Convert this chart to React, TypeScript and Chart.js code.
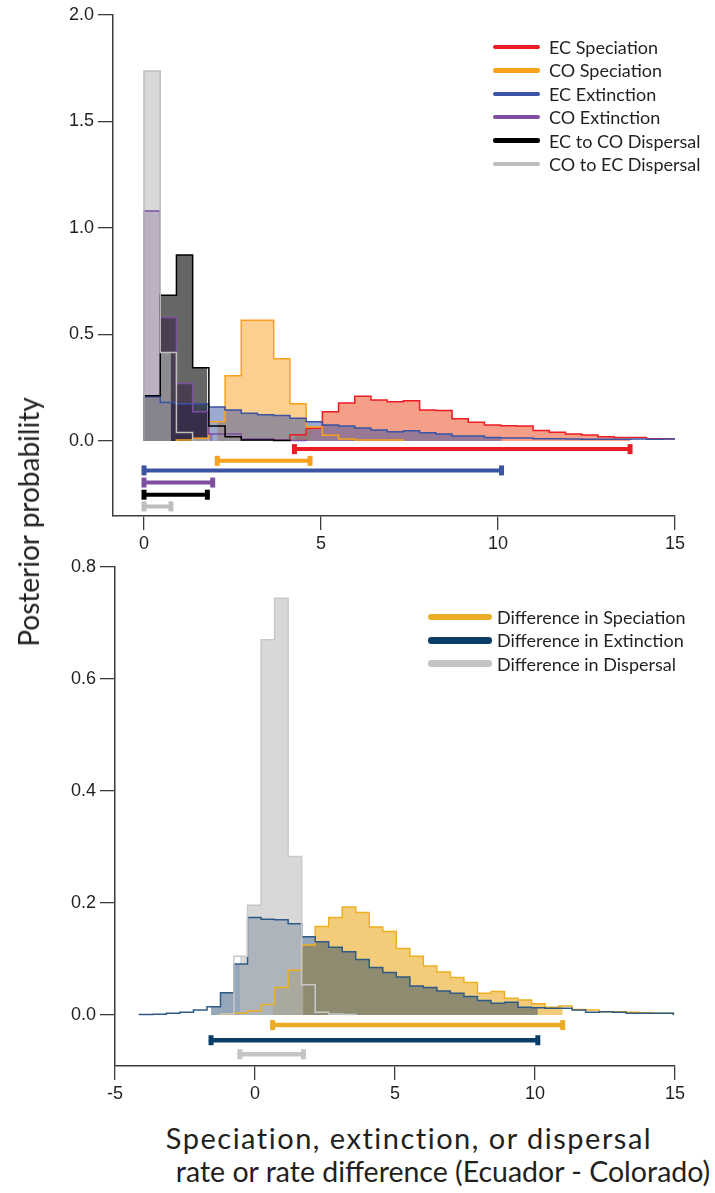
import React, { useEffect, useRef } from "react";
import { Chart, registerables } from "chart.js";

Chart.register(...registerables);

// ---------------- DATA: top panel (rates) ----------------
const TOP_BIN_START = 0;
const TOP_BIN_WIDTH = 0.458;
const TOP_X_END = 15.05;
const TOP_X_TICKS = [0, 5, 10, 15];
const TOP_Y_TICKS = [0, 0.5, 1.0, 1.5, 2.0];

const EC_SPECIATION = [0, 0, 0, 0, 0, 0, 0, 0, 0.004, 0.03, 0.06, 0.138, 0.179, 0.21, 0.193, 0.184, 0.189, 0.146, 0.143, 0.104, 0.088, 0.075, 0.072, 0.07, 0.049, 0.041, 0.033, 0.028, 0.02, 0.017, 0.016, 0.011, 0.011];
const CO_SPECIATION = [0, 0, 0.005, 0.013, 0.09, 0.307, 0.567, 0.567, 0.386, 0.175, 0.066, 0.027, 0.01, 0.005, 0.005, 0.005];
const EC_EXTINCTION = [0.208, 0.181, 0.175, 0.175, 0.16, 0.146, 0.13, 0.123, 0.12, 0.107, 0.09, 0.075, 0.071, 0.061, 0.052, 0.044, 0.048, 0.039, 0.033, 0.024, 0.024, 0.017, 0.014, 0.014, 0.011, 0.011, 0.01, 0.008, 0.008, 0.008, 0.009, 0.008, 0.009];
const CO_EXTINCTION = [1.08, 0.58, 0.27, 0.137, 0.033, 0.033, 0.01, 0.01, 0.005, 0.003];
const EC_TO_CO_DISPERSAL = [0.212, 0.684, 0.873, 0.344, 0.071, 0.02, 0.005, 0.005, 0.003];
const CO_TO_EC_DISPERSAL = [1.737, 0.415, 0.04, 0.005];

const EC_SPECIATION_HPD = [4.25, 13.73];
const CO_SPECIATION_HPD = [2.07, 4.69];
const EC_EXTINCTION_HPD = [0, 10.1];
const CO_EXTINCTION_HPD = [0, 1.94];
const EC_TO_CO_DISPERSAL_HPD = [0, 1.79];
const CO_TO_EC_DISPERSAL_HPD = [0, 0.76];

// ---------------- DATA: bottom panel (differences) ----------------
const BOTTOM_BIN_START = -4.13;
const BOTTOM_BIN_WIDTH = 0.483;
const BOTTOM_X_END = 14.94;
const BOTTOM_X_TICKS = [-5, 0, 5, 10, 15];
const BOTTOM_Y_TICKS = [0, 0.2, 0.4, 0.6, 0.8];

const DIFF_SPECIATION = [0, 0, 0, 0, 0, 0, 0.002, 0.003, 0.007, 0.019, 0.049, 0.08, 0.125, 0.158, 0.174, 0.193, 0.183, 0.157, 0.149, 0.119, 0.105, 0.0875, 0.077, 0.067, 0.058, 0.039, 0.042, 0.03, 0.027, 0.02, 0.014, 0.016, 0.01, 0.009, 0.006, 0.006, 0.005, 0.004, 0.003, 0.003];
const DIFF_EXTINCTION = [0.001, 0.0015, 0.003, 0.005, 0.009, 0.015, 0.04, 0.091, 0.174, 0.171, 0.17, 0.163, 0.14, 0.131, 0.121, 0.113, 0.099, 0.085, 0.076, 0.068, 0.052, 0.049, 0.043, 0.039, 0.033, 0.026, 0.021, 0.023, 0.014, 0.013, 0.012, 0.012, 0.009, 0.005, 0.006, 0.005, 0.003, 0.003, 0.003, 0.003];
const DIFF_DISPERSAL = [0, 0, 0, 0, 0, 0, 0.002, 0.105, 0.196, 0.67, 0.744, 0.283, 0.054, 0.005, 0.002, 0.001];

const DIFF_SPECIATION_HPD = [0.63, 10.99];
const DIFF_EXTINCTION_HPD = [-1.57, 10.1];
const DIFF_DISPERSAL_HPD = [-0.54, 1.73];

// ---------------- styles ----------------
const TICK_FONT = { family: "'Liberation Sans', Arial, sans-serif", size: 18 };
const TEXT_COLOR = "#231f20";
const AXIS_COLOR = "#3c3c3c";
const LABEL_FONT = "Lato, 'Open Sans', sans-serif";

type Series = {
  label: string;
  values: number[];
  hpd: number[];
  line: string;
  fill: string;
  barRow: number;
  lineWidth: number;
  barWidth: number;
};

// drawn bottom -> top
const TOP_SERIES: Series[] = [
  { label: "EC Speciation", values: EC_SPECIATION, hpd: EC_SPECIATION_HPD, line: "#ED1C24", fill: "rgba(236,80,40,0.55)", barRow: -0.038, lineWidth: 1.5, barWidth: 4 },
  { label: "CO Speciation", values: CO_SPECIATION, hpd: CO_SPECIATION_HPD, line: "#F9A11B", fill: "rgba(250,160,30,0.5)", barRow: -0.093, lineWidth: 1.5, barWidth: 4 },
  { label: "EC Extinction", values: EC_EXTINCTION, hpd: EC_EXTINCTION_HPD, line: "#3A53A4", fill: "rgba(58,83,164,0.5)", barRow: -0.138, lineWidth: 1.5, barWidth: 4 },
  { label: "CO Extinction", values: CO_EXTINCTION, hpd: CO_EXTINCTION_HPD, line: "#7E4FA1", fill: "rgba(126,79,161,0.55)", barRow: -0.195, lineWidth: 1.5, barWidth: 4 },
  { label: "EC to CO Dispersal", values: EC_TO_CO_DISPERSAL, hpd: EC_TO_CO_DISPERSAL_HPD, line: "#000000", fill: "rgba(0,0,0,0.6)", barRow: -0.252, lineWidth: 1.5, barWidth: 4 },
  { label: "CO to EC Dispersal", values: CO_TO_EC_DISPERSAL, hpd: CO_TO_EC_DISPERSAL_HPD, line: "#BEBEBE", fill: "rgba(190,190,190,0.6)", barRow: -0.307, lineWidth: 1.5, barWidth: 4 },
];
const TOP_LEGEND_ORDER = [0, 1, 2, 3, 4, 5];

// drawn bottom -> top
const BOTTOM_SERIES: Series[] = [
  { label: "Difference in Speciation", values: DIFF_SPECIATION, hpd: DIFF_SPECIATION_HPD, line: "#EDB021", fill: "rgba(235,170,35,0.6)", barRow: -0.018, lineWidth: 1.5, barWidth: 4.5 },
  { label: "Difference in Extinction", values: DIFF_EXTINCTION, hpd: DIFF_EXTINCTION_HPD, line: "#2F5A86", fill: "rgba(20,60,100,0.45)", barRow: -0.045, lineWidth: 1.5, barWidth: 4.5 },
  { label: "Difference in Dispersal", values: DIFF_DISPERSAL, hpd: DIFF_DISPERSAL_HPD, line: "#C8C8C8", fill: "rgba(190,190,190,0.6)", barRow: -0.07, lineWidth: 1.5, barWidth: 4.5 },
];
const BOTTOM_BAR_COLORS: Record<string, string> = {
  "Difference in Dispersal": "#C4C4C4",
  "Difference in Speciation": "#EBAB25",
  "Difference in Extinction": "#0C3D66",
};
const BOTTOM_LEGEND_ORDER = [0, 1, 2];

// ---------------- helpers ----------------
function binEdges(start: number, width: number, n: number, end: number) {
  const e: number[] = [];
  for (let i = 0; i <= n; i++) e.push(Math.min(start + i * width, end));
  return e;
}

function outlinePoints(values: number[], edges: number[]) {
  let first = 0;
  while (first < values.length && values[first] === 0) first++;
  let last = values.length - 1;
  while (last > first && values[last] === 0) last--;
  const pts: { x: number; y: number }[] = [{ x: edges[first], y: 0 }];
  for (let i = first; i <= last; i++) {
    pts.push({ x: edges[i], y: values[i] }, { x: edges[i + 1], y: values[i] });
  }
  pts.push({ x: edges[last + 1], y: 0 });
  return pts;
}

function fillPoints(values: number[], edges: number[], lo: number, hi: number) {
  const pts: { x: number; y: number }[] = [];
  for (let i = 0; i < values.length; i++) {
    const a = Math.max(edges[i], lo);
    const b = Math.min(edges[i + 1], hi);
    if (a < b) pts.push({ x: a, y: values[i] }, { x: b, y: values[i] });
  }
  if (!pts.length) return pts;
  return [{ x: pts[0].x, y: 0 }, ...pts, { x: pts[pts.length - 1].x, y: 0 }];
}

function buildDatasets(series: Series[], edgesFor: (n: number) => number[], barColor: (s: Series) => string) {
  const ds: any[] = [];
  const n = series.length;
  series.forEach((s, i) => {
    const e = edgesFor(s.values.length);
    ds.push({
      type: "line",
      data: fillPoints(s.values, e, s.hpd[0], s.hpd[1]),
      fill: "origin",
      backgroundColor: s.fill,
      borderColor: "rgba(0,0,0,0)",
      borderWidth: 0,
      pointRadius: 0,
      tension: 0,
      order: 300 - i,
    });
    ds.push({
      type: "line",
      data: outlinePoints(s.values, e),
      fill: false,
      borderColor: s.line,
      borderWidth: s.lineWidth,
      borderJoinStyle: "miter",
      pointRadius: 0,
      tension: 0,
      order: 200 - i,
    });
    const c = barColor(s);
    ds.push({
      type: "line",
      data: [
        { x: s.hpd[0], y: s.barRow },
        { x: s.hpd[1], y: s.barRow },
      ],
      fill: false,
      borderColor: c,
      borderWidth: s.barWidth,
      borderCapStyle: "round",
      pointStyle: "line",
      rotation: 90,
      pointRotation: 90,
      pointRadius: 5,
      pointBorderWidth: 5,
      pointBorderColor: c,
      pointBackgroundColor: c,
      order: 100 - (n - i),
    });
  });
  return ds;
}

function axisX(min: number, max: number, ticks: number[], height: number) {
  return {
    type: "linear",
    min,
    max,
    afterBuildTicks: (s: any) => {
      s.ticks = ticks.map((v) => ({ value: v }));
    },
    afterFit: (s: any) => {
      s.height = height;
    },
    grid: { drawOnChartArea: false, drawTicks: true, tickLength: 14, color: AXIS_COLOR, lineWidth: 1.3 },
    border: { display: true, color: AXIS_COLOR, width: 1.5 },
    ticks: { font: TICK_FONT, color: TEXT_COLOR, padding: 3, maxRotation: 0, autoSkip: false, callback: (v: any) => String(v) },
  };
}

function axisY(min: number, max: number, ticks: number[], width: number) {
  return {
    type: "linear",
    min,
    max,
    afterBuildTicks: (s: any) => {
      s.ticks = ticks.map((v) => ({ value: v }));
    },
    afterFit: (s: any) => {
      s.width = width;
    },
    grid: { drawOnChartArea: false, drawTicks: true, tickLength: 15, color: AXIS_COLOR, lineWidth: 1.3 },
    border: { display: true, color: AXIS_COLOR, width: 1.5 },
    ticks: { font: TICK_FONT, color: TEXT_COLOR, padding: 4, autoSkip: false, callback: (v: any) => Number(v).toFixed(1) },
  };
}

function makeChart(canvas: HTMLCanvasElement, datasets: any[], scales: any, padding: any) {
  return new Chart(canvas, {
    type: "line",
    data: { datasets },
    options: {
      animation: false,
      responsive: false,
      maintainAspectRatio: false,
      parsing: true,
      layout: { padding },
      plugins: { legend: { display: false }, tooltip: { enabled: false }, title: { display: false } },
      scales,
    } as any,
  } as any);
}

const TOP_CANVAS = { top: 0, height: 560 };
const BOTTOM_CANVAS = { top: 545, height: 560 };

function ChartCanvas({ top, height, build }: { top: number; height: number; build: (c: HTMLCanvasElement) => Chart }) {
  const ref = useRef<HTMLCanvasElement | null>(null);
  useEffect(() => {
    const chart = build(ref.current as HTMLCanvasElement);
    return () => chart.destroy();
  }, []);
  return <canvas ref={ref} width={715} height={height} style={{ position: "absolute", left: 0, top, width: 715, height }} />;
}

function Legend({ items, left, top, swatchW, swatchH, gap, rowH }: any) {
  return (
    <div style={{ position: "absolute", left, top }}>
      {items.map((it: any, i: number) => (
        <div key={i} style={{ position: "absolute", left: 0, top: i * rowH, height: 0, display: "flex", alignItems: "center", whiteSpace: "nowrap" }}>
          <div style={{ width: swatchW, height: swatchH, borderRadius: swatchH / 2, background: it.color, flex: "none" }} />
          <div style={{ marginLeft: gap, fontFamily: LABEL_FONT, fontSize: 18, color: TEXT_COLOR, lineHeight: "20px" }}>{it.label}</div>
        </div>
      ))}
    </div>
  );
}

const TITLE_BASE: React.CSSProperties = {
  position: "absolute",
  whiteSpace: "nowrap",
  fontFamily: LABEL_FONT,
  color: TEXT_COLOR,
  lineHeight: 1,
};

export default function App() {
  const buildTop = (c: HTMLCanvasElement) => {
    const edgesFor = (n: number) => binEdges(TOP_BIN_START, TOP_BIN_WIDTH, n, TOP_X_END);
    const ds = buildDatasets(TOP_SERIES, edgesFor, (s) => s.line);
    return makeChart(
      c,
      ds,
      { x: axisX(-0.876, 15, TOP_X_TICKS, 44), y: axisY(-0.352, 2.0, TOP_Y_TICKS, 113) },
      { left: 0, right: 40, top: 15, bottom: 0 }
    );
  };
  const buildBottom = (c: HTMLCanvasElement) => {
    const edgesFor = (n: number) => binEdges(BOTTOM_BIN_START, BOTTOM_BIN_WIDTH, n, BOTTOM_X_END);
    const ds = buildDatasets(BOTTOM_SERIES, edgesFor, (s) => BOTTOM_BAR_COLORS[s.label]);
    return makeChart(
      c,
      ds,
      { x: axisX(-5, 15, BOTTOM_X_TICKS, 39), y: axisY(-0.091, 0.8, BOTTOM_Y_TICKS, 115) },
      { left: 0, right: 40, top: 22, bottom: 0 }
    );
  };

  const topLegend = TOP_LEGEND_ORDER.map((i) => ({ label: TOP_SERIES[i].label, color: TOP_SERIES[i].line }));
  const bottomLegend = BOTTOM_LEGEND_ORDER.map((i) => ({ label: BOTTOM_SERIES[i].label, color: BOTTOM_BAR_COLORS[BOTTOM_SERIES[i].label] }));

  return (
    <div style={{ position: "absolute", left: 0, top: 0, width: 715, height: 1193, background: "#ffffff", overflow: "hidden" }}>
      <ChartCanvas top={TOP_CANVAS.top} height={TOP_CANVAS.height} build={buildTop} />
      <ChartCanvas top={BOTTOM_CANVAS.top} height={BOTTOM_CANVAS.height} build={buildBottom} />
      <Legend items={topLegend} left={493} top={47} swatchW={47} swatchH={4.5} gap={9} rowH={23.4} />
      <Legend items={bottomLegend} left={428} top={617} swatchW={64} swatchH={6.5} gap={5} rowH={23.3} />
      <div style={{ ...TITLE_BASE, left: 28, top: 522, fontSize: 28, transform: "translate(-50%, -50%) rotate(-90deg)" }}>
        Posterior probability
      </div>
      <div style={{ ...TITLE_BASE, left: 409, top: 1137, fontSize: 29, letterSpacing: "1.5px", transform: "translate(-50%, -50%)" }}>
        Speciation, extinction, or dispersal
      </div>
      <div style={{ ...TITLE_BASE, left: 443, top: 1171, fontSize: 28.5, transform: "translate(-50%, -50%)" }}>
        rate or rate difference (Ecuador - Colorado)
      </div>
    </div>
  );
}
